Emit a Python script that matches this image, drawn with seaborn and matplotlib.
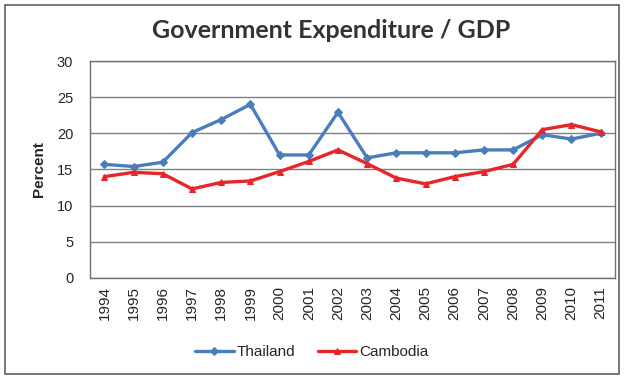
import numpy as np
import pandas as pd
import matplotlib.pyplot as plt
import seaborn as sns
from matplotlib.patches import Rectangle

years = [str(y) for y in range(1994, 2012)]
thailand = [15.7, 15.4, 16.0, 20.1, 21.9, 24.0, 17.0, 17.0, 22.9, 16.6,
            17.3, 17.3, 17.3, 17.7, 17.7, 19.8, 19.2, 20.0]
cambodia = [14.0, 14.6, 14.4, 12.3, 13.2, 13.4, 14.7, 16.1, 17.7, 15.8,
            13.8, 13.0, 14.0, 14.7, 15.7, 20.5, 21.2, 20.2]


def main():
    df = pd.DataFrame({
        "Year": years * 2,
        "Percent": thailand + cambodia,
        "Country": ["Thailand"] * len(years) + ["Cambodia"] * len(years),
    })

    sns.set_style("white")
    plt.rcParams["font.family"] = ["Liberation Sans", "DejaVu Sans"]

    fig = plt.figure(figsize=(6.24, 3.79), dpi=100)
    ax = fig.add_axes([0.144, 0.267, 0.842, 0.572])

    pal = {"Thailand": "#4A7EBB", "Cambodia": "#E8262A"}
    sns.lineplot(data=df, x="Year", y="Percent", hue="Country", style="Country",
                 palette=pal, markers={"Thailand": "D", "Cambodia": "^"}, dashes=False,
                 markersize=4, linewidth=2.4, ax=ax, sort=False)
    for line in ax.lines:
        line.set_markeredgecolor(line.get_color())

    ax.set_ylim(0, 30)
    ax.set_yticks(range(0, 31, 5))
    ax.set_xlim(-0.5, len(years) - 0.5)
    ax.yaxis.grid(True, color="#808080", linewidth=1)
    ax.set_axisbelow(True)
    for s in ax.spines.values():
        s.set_color("#707070")
        s.set_linewidth(1)
    ax.tick_params(axis="x", rotation=90, labelsize=11, length=0, pad=6)
    ax.tick_params(axis="y", labelsize=10.5, length=0, pad=12)
    ax.set_xlabel("")
    ax.set_ylabel("Percent", fontsize=11, fontweight="bold", labelpad=8)

    fig.text(0.53, 0.92, "Government Expenditure / GDP", ha="center", va="center",
             fontsize=18, fontweight="bold", color="#333333",
             family=["Lato", "DejaVu Sans"])

    handles, labels = ax.get_legend_handles_labels()
    for h in handles:
        h.set_markeredgecolor(h.get_color())
    ax.legend(handles, labels, loc="center", bbox_to_anchor=(0.5, 0.07),
              bbox_transform=fig.transFigure, ncol=2, frameon=False,
              fontsize=11, handlelength=2.5, handletextpad=0.2, columnspacing=1.5)

    fig.patches.append(Rectangle((0.008, 0.013), 0.984, 0.975, transform=fig.transFigure,
                                 fill=False, edgecolor="#606060", linewidth=1.2))

    fig.savefig("out.png", dpi=100)


if __name__ == "__main__":
    main()
